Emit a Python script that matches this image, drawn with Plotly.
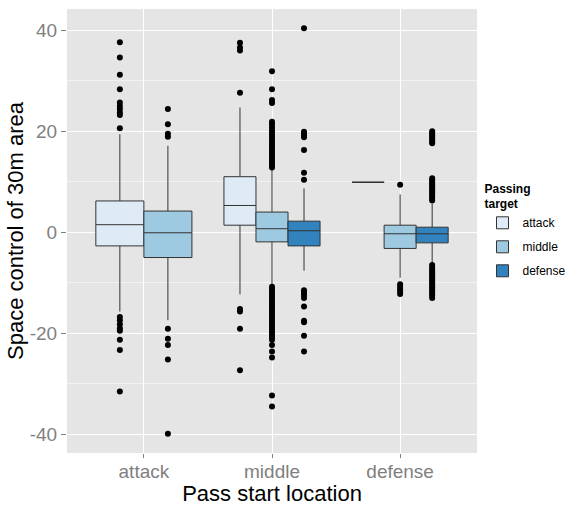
import plotly.graph_objects as go

# ---------------- data ----------------
locations = ["attack", "middle", "defense"]          # pass start location (x categories)
targets = ["attack", "middle", "defense"]            # passing target (fill groups)
colors = {"attack": "#DEEBF7", "middle": "#9ECAE1", "defense": "#3182BD"}

# box statistics per target, listed by location (None = no data)
q1 = {"attack": [-2.7, 1.4, 9.9], "middle": [-5.0, -1.9, -3.2], "defense": [None, -2.7, -2.1]}
med = {"attack": [1.5, 5.3, 9.9], "middle": [-0.1, 0.7, -0.3], "defense": [None, 0.3, -0.3]}
q3 = {"attack": [6.2, 11.0, 9.9], "middle": [4.2, 4.0, 1.4], "defense": [None, 2.2, 1.0]}
lowf = {"attack": [-15.7, -12.3, 9.9], "middle": [-17.4, -10.4, -9.0], "defense": [None, -7.6, -6.1]}
upf = {"attack": [19.4, 24.7, 9.9], "middle": [17.1, 12.4, 7.5], "defense": [None, 8.7, 5.6]}

# outliers per (location, target)
out_attack_attack = [37.6, 34.6, 31.2, 28.3, 25.7, 25.0, 24.4, 23.7, 23.2, 20.6,
                     -16.8, -17.4, -18.2, -19.0, -19.5, -21.3, -23.3, -31.5]
out_attack_middle = [24.4, 21.4, 19.5, 18.9, -19.1, -21.1, -22.3, -25.2, -39.9]
out_middle_attack = [37.5, 36.6, 36.0, 27.6, -15.2, -15.7, -19.1, -27.3]
out_middle_middle = [31.9, 28.3, 26.2, 25.6, 21.9, 21.4, 20.8, 20.2, 19.7, 19.2, 18.7,
                     18.2, 17.7, 17.2, 16.7, 16.2, 15.7, 15.2, 14.7, 14.2, 13.7, 13.2, 12.8,
                     -10.8, -11.3, -11.8, -12.3, -12.8, -13.3, -13.8, -14.3, -14.8, -15.3,
                     -15.8, -16.3, -16.8, -17.3, -17.8, -18.3, -18.8, -19.3, -19.8, -20.3,
                     -20.8, -21.3, -22.3, -23.6, -24.8, -32.3, -34.5]
out_middle_defense = [40.4, 19.9, 19.5, 19.1, 18.8, 16.3, 11.8, 10.4,
                      -11.5, -12.0, -12.4, -13.0, -14.7, -17.5, -17.8, -20.5, -23.6]
out_defense_attack = []
out_defense_middle = [9.4, -10.3, -10.8, -11.3, -11.8, -12.2]
out_defense_defense = [20.0, 19.6, 19.2, 18.8, 18.4, 18.0, 17.6,
                       10.7, 10.3, 9.9, 9.5, 9.1, 8.7, 8.3, 7.9, 7.5, 7.1, 6.7, 6.3,
                       -6.5, -6.9, -7.3, -7.7, -8.1, -8.5, -8.9, -9.3, -9.7, -10.1,
                       -10.5, -10.9, -11.3, -11.7, -12.1, -12.5, -13.0]
outliers = {
    ("attack", "attack"): out_attack_attack, ("attack", "middle"): out_attack_middle,
    ("middle", "attack"): out_middle_attack, ("middle", "middle"): out_middle_middle,
    ("middle", "defense"): out_middle_defense, ("defense", "attack"): out_defense_attack,
    ("defense", "middle"): out_defense_middle, ("defense", "defense"): out_defense_defense,
}

ytick_vals = [-40, -20, 0, 20, 40]
ytick_text = ["-40", "-20", "0", "20", "40"]

# ---------------- figure ----------------
FONT = "Liberation Sans, Arial, sans-serif"
DODGE = 0.75
fig = go.Figure()

point_x, point_y = [], []
for t in targets:
    for li, loc in enumerate(locations):
        present = [tt for tt in targets if q1[tt][li] is not None]
        if t not in present:
            continue
        n = len(present)
        k = present.index(t)
        w = DODGE / n
        pos = (li + 1) + (k - (n - 1) / 2) * w
        fig.add_trace(go.Box(
            x=[pos], q1=[q1[t][li]], median=[med[t][li]], q3=[q3[t][li]],
            lowerfence=[lowf[t][li]], upperfence=[upf[t][li]],
            orientation="v", width=w, whiskerwidth=0, boxpoints=False,
            fillcolor=colors[t], line=dict(color="#333333", width=1),
            name=t, legendgroup=t, showlegend=(loc == "middle"),
            hoverinfo="skip",
        ))
        vals = outliers[(loc, t)]
        point_x += [pos] * len(vals)
        point_y += vals

fig.add_trace(go.Scatter(
    x=point_x, y=point_y, mode="markers",
    marker=dict(color="black", size=6), showlegend=False, hoverinfo="skip",
))

fig.update_layout(
    width=569, height=506,
    margin=dict(l=67, r=92, t=9, b=53),
    paper_bgcolor="white", plot_bgcolor="#E5E5E5",
    font=dict(family=FONT, color="black"),
    boxmode="overlay",
    legend=dict(
        title=dict(text="<b>Passing<br>target</b>", font=dict(size=12, family=FONT)),
        font=dict(size=12, family=FONT),
        xref="container", yref="container",
        x=0.848, xanchor="left", y=0.65, yanchor="top",
        tracegroupgap=5, bgcolor="rgba(0,0,0,0)",
    ),
    xaxis=dict(
        range=[0.4, 3.6], tickvals=[1, 2, 3], ticktext=locations,
        showgrid=True, gridcolor="white", gridwidth=1.1, zeroline=False,
        ticks="outside", ticklen=4, tickcolor="#7F7F7F", automargin=False,
        ticklabelstandoff=-3,
        tickfont=dict(size=19, color="#7F7F7F", family=FONT),
        title=dict(text="Pass start location", font=dict(size=22, color="black", family=FONT), standoff=0),
    ),
    yaxis=dict(
        range=[-43.7, 44.2], tickvals=ytick_vals, ticktext=ytick_text,
        showgrid=True, gridcolor="white", gridwidth=1.1, zeroline=False,
        ticks="outside", ticklen=5, tickcolor="#7F7F7F", automargin=False,
        tickfont=dict(size=19, color="#7F7F7F", family=FONT),
        minor=dict(tickvals=[-30, -10, 10, 30], showgrid=True, gridcolor="#F2F2F2", gridwidth=0.6, ticks=""),
        title=dict(text="Space control of 30m area", font=dict(size=22, color="black", family=FONT), standoff=0),
    ),
)

fig.write_html("out.html", config={"displayModeBar": False},
               post_script="document.body.style.margin='0';document.body.style.overflow='hidden';")
